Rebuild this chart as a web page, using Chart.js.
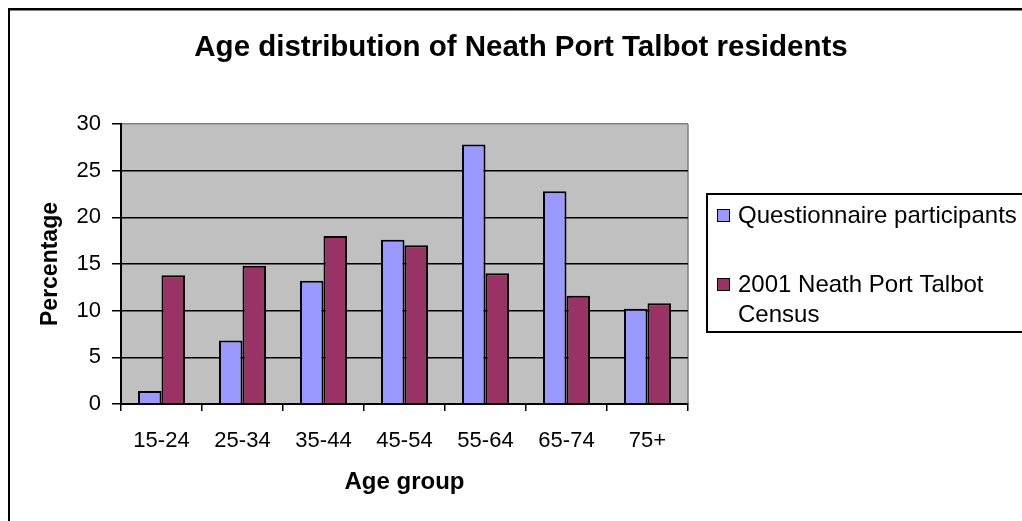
<!DOCTYPE html>
<html>
<head>
<meta charset="utf-8">
<script src="https://cdn.jsdelivr.net/npm/chart.js@4.4.0/dist/chart.umd.min.js"></script>
<style>
  html, body { margin: 0; padding: 0; background: #ffffff; }
  #wrap { position: relative; width: 1022px; height: 521px; }
  canvas { display: block; }
</style>
</head>
<body>
<div id="wrap"><canvas id="c" width="1022" height="521"></canvas></div>
<script>
const chartTitle = "Age distribution of Neath Port Talbot residents";
const xAxisTitle = "Age group";
const yAxisTitle = "Percentage";
const categories = ["15-24", "25-34", "35-44", "45-54", "55-64", "65-74", "75+"];
const seriesNames = ["Questionnaire participants", "2001 Neath Port Talbot Census"];
const questionnaire = [1.4, 6.8, 13.2, 17.6, 27.8, 22.8, 10.2];
const census = [13.8, 14.8, 18.0, 17.0, 14.0, 11.6, 10.8];
const yTicks = [0, 5, 10, 15, 20, 25, 30];
const seriesColors = ["#9999FF", "#993366"];

const FONT = "'Liberation Sans', Arial, Helvetica, sans-serif";

const decorPlugin = {
  id: 'decor',
  beforeDraw(chart) {
    const { ctx, chartArea: a } = chart;
    ctx.save();
    ctx.fillStyle = '#ffffff';
    ctx.fillRect(0, 0, chart.width, chart.height);
    // outer frame (top & left visible)
    ctx.strokeStyle = '#000000';
    ctx.lineWidth = 2;
    ctx.beginPath();
    ctx.moveTo(9, chart.height + 5);
    ctx.lineTo(9, 9);
    ctx.lineTo(chart.width + 5, 9);
    ctx.stroke();
    ctx.strokeStyle = '#808080';
    ctx.lineWidth = 1;
    ctx.beginPath();
    ctx.moveTo(10, 10.5);
    ctx.lineTo(chart.width + 5, 10.5);
    ctx.stroke();
    // plot area background
    ctx.fillStyle = '#C0C0C0';
    ctx.fillRect(a.left, a.top, a.right - a.left, a.bottom - a.top);
    // plot border right (gray)
    ctx.strokeStyle = '#808080';
    ctx.lineWidth = 1.5;
    ctx.beginPath();
    ctx.moveTo(a.right, a.top);
    ctx.lineTo(a.right, a.bottom);
    ctx.stroke();
    // title
    ctx.fillStyle = '#000000';
    ctx.font = "bold 29.5px " + FONT;
    ctx.textAlign = 'center';
    ctx.textBaseline = 'middle';
    ctx.fillText(chartTitle, 521, 48);
    ctx.restore();
  },
  afterDraw(chart) {
    const { ctx } = chart;
    ctx.save();
    // legend box
    const bx = 707, by = 194, bw = 340, bh = 138;
    ctx.strokeStyle = '#000000';
    ctx.lineWidth = 2;
    ctx.strokeRect(bx, by, bw, bh);
    ctx.font = "24px " + FONT;
    ctx.textAlign = 'left';
    ctx.textBaseline = 'middle';
    const maxW = 290;
    const lineH = 30;
    const itemTops = [216, 285];
    chart.data.datasets.forEach((ds, i) => {
      const words = ds.label.split(' ');
      const lines = [];
      let cur = '';
      words.forEach(w => {
        const t = cur ? cur + ' ' + w : w;
        if (ctx.measureText(t).width > maxW && cur) { lines.push(cur); cur = w; }
        else cur = t;
      });
      if (cur) lines.push(cur);
      const cy = itemTops[i];
      ctx.fillStyle = ds.backgroundColor;
      ctx.fillRect(717.5, cy - 6.5, 12, 12);
      ctx.strokeStyle = '#000000';
      ctx.lineWidth = 1;
      ctx.strokeRect(717.5, cy - 6.5, 12, 12);
      ctx.fillStyle = '#000000';
      lines.forEach((ln, k) => ctx.fillText(ln, 738, cy + k * lineH));
    });
    ctx.restore();
  }
};

new Chart(document.getElementById('c'), {
  type: 'bar',
  data: {
    labels: categories,
    datasets: [
      { label: seriesNames[0], data: questionnaire, backgroundColor: seriesColors[0], borderColor: '#000000', borderWidth: 2 },
      { label: seriesNames[1], data: census, backgroundColor: seriesColors[1], borderColor: '#000000', borderWidth: 2 }
    ]
  },
  options: {
    responsive: false,
    animation: false,
    devicePixelRatio: 1,
    layout: { padding: { left: 0, right: 334, top: 124, bottom: 0 } },
    datasets: { bar: { barPercentage: 1.0, categoryPercentage: 0.58 } },
    plugins: {
      legend: { display: false },
      title: { display: false },
      tooltip: { enabled: false }
    },
    scales: {
      x: {
        afterFit(scale) { scale.height = 117; },
        grid: { display: true, offset: true, drawOnChartArea: false, drawTicks: true, tickLength: 7, color: '#000000', lineWidth: 1.5 },
        border: { display: true, color: '#000000', width: 2 },
        ticks: { color: '#000000', font: { family: FONT, size: 22 }, padding: 17, maxRotation: 0 },
        title: { display: true, text: xAxisTitle, color: '#000000', font: { family: FONT, size: 24, weight: 'bold' }, padding: { top: 0, bottom: 24 } }
      },
      y: {
        min: yTicks[0],
        max: yTicks[yTicks.length - 1],
        afterFit(scale) { scale.width = 121; },
        afterBuildTicks(scale) { scale.ticks = yTicks.map(v => ({ value: v })); },
        grid: {
          drawOnChartArea: true,
          drawTicks: true,
          tickLength: 9,
          color: ctx => (ctx.tick && ctx.tick.value === yTicks[yTicks.length - 1]) ? '#808080' : '#000000',
          tickColor: '#000000',
          lineWidth: 1.5
        },
        border: { display: true, color: '#000000', width: 2 },
        ticks: { color: '#000000', font: { family: FONT, size: 22 }, padding: 11 },
        title: { display: true, text: yAxisTitle, color: '#000000', font: { family: FONT, size: 23, weight: 'bold' }, padding: { top: 37, bottom: 0 } }
      }
    }
  },
  plugins: [decorPlugin]
});
</script>
</body>
</html>
